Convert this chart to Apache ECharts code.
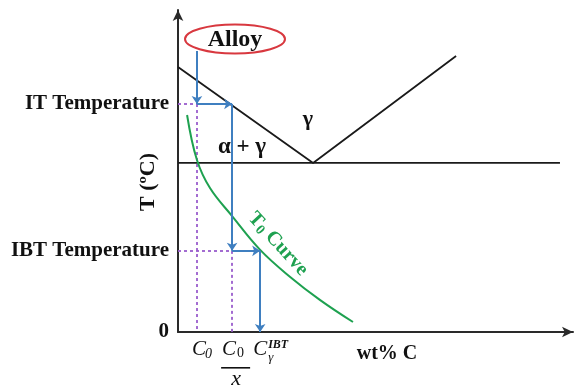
<!DOCTYPE html>
<html>
<head>
<meta charset="utf-8">
<script src="https://cdn.jsdelivr.net/npm/echarts@6/dist/echarts.min.js"></script>
<style>
html,body{margin:0;padding:0;background:#fff;}
#c{width:575px;height:387px;}
</style>
</head>
<body>
<div id="c"></div>
<script>
// ---- data (schematic units: x = wt% C, y = temperature, both 0..100) ----
const yTickValues = [0, 25.2, 70.8];
const yTickLabels = ['0', 'IBT Temperature', 'IT Temperature'];
const xTickValues = [4.8, 13.7, 20.8];           // C0, C0/x, Cγ^IBT
const xTickLabels = ['C0', 'C0/x', 'Cγ^IBT'];
const phaseBoundary = [[0, 82.3], [34.2, 52.5], [70.4, 85.7]];   // A3 + Acm
const eutectoidLine = [[0, 52.5], [96.7, 52.5]];
const t0Curve = [[2.3, 67.4], [4.8, 53.4], [8.1, 44.7], [13.7, 36.0], [20.8, 25.5], [28.4, 17.1], [36.0, 9.9], [44.3, 3.1]];
const alloyTop = 87.3;

const C0 = xTickValues[0], C0x = xTickValues[1], CG = xTickValues[2];
const IT = yTickValues[2], IBT = yTickValues[1];

const blueArrows = [
  [[C0, alloyTop], [C0, IT]],
  [[C0, IT], [C0x, IT]],
  [[C0x, IT], [C0x, IBT]],
  [[C0x, IBT], [CG, IBT]],
  [[CG, IBT], [CG, 0]]
];
const purpleDashes = [
  [[0, IT], [C0, IT]],
  [[C0, IT], [C0, 0]],
  [[0, IBT], [C0x, IBT]],
  [[C0x, IBT], [C0x, 0]]
];

const serif = '"Liberation Serif", "DejaVu Serif", serif';
const chart = echarts.init(document.getElementById('c'), null, {renderer: 'canvas'});

const option = {
  backgroundColor: '#fff',
  animation: false,
  grid: {left: 178, right: 2, top: 10, bottom: 55, containLabel: false, outerBoundsMode: 'none'},
  xAxis: {
    type: 'value', min: 0, max: 100,
    splitLine: {show: false}, axisTick: {show: false}, axisLabel: {show: false},
    axisLine: {show: true, onZero: false, symbol: ['none', 'arrow'], symbolSize: [8, 11],
      lineStyle: {color: '#2a2a2a', width: 2}}
  },
  yAxis: {
    type: 'value', min: 0, max: 100,
    splitLine: {show: false}, axisTick: {show: false},
    axisLine: {show: true, onZero: false, symbol: ['none', 'arrow'], symbolSize: [8, 11],
      lineStyle: {color: '#2a2a2a', width: 2}},
    axisLabel: {
      show: true, customValues: yTickValues, margin: 9,
      fontFamily: serif, fontWeight: 'bold', fontSize: 21, color: '#111',
      formatter: function (v) {
        const i = yTickValues.indexOf(v);
        return i >= 0 ? yTickLabels[i] : '';
      }
    }
  },
  series: [
    {
      type: 'line', data: phaseBoundary, symbol: 'none', silent: true,
      lineStyle: {color: '#1a1a1a', width: 1.8}, z: 3
    },
    {
      type: 'line', data: eutectoidLine, symbol: 'none', silent: true,
      lineStyle: {color: '#1a1a1a', width: 1.8}, z: 3
    },
    {
      type: 'lines', coordinateSystem: 'cartesian2d', silent: true,
      symbol: ['none', 'none'],
      lineStyle: {color: '#9a5ccc', width: 1.8, type: [3, 3], opacity: 1},
      data: purpleDashes.map(c => ({coords: c})), z: 2
    },
    {
      type: 'line', data: t0Curve, symbol: 'none', smooth: 0.4, silent: true,
      lineStyle: {color: '#1ea150', width: 2}, z: 4
    },
    {
      type: 'lines', coordinateSystem: 'cartesian2d', silent: true,
      symbol: ['none', 'arrow'], symbolSize: 8,
      lineStyle: {color: '#3f7fc0', width: 2, opacity: 1},
      data: blueArrows.map(c => ({coords: c})), z: 5
    }
  ]
};
chart.setOption(option);

// ---- text annotations ----
const bold = {fontFamily: serif, fontWeight: 'bold'};
function px(x, y) { return chart.convertToPixel({gridIndex: 0}, [x, y]); }
const xLabY = px(0, 0)[1];
const pC0 = px(C0, 0)[0], pC0x = px(C0x, 0)[0], pCG = px(CG, 0)[0];

const graphic = [
  {type: 'ellipse', shape: {cx: 235, cy: 39, rx: 50, ry: 14.5},
   style: {fill: 'none', stroke: '#d8383f', lineWidth: 2}, z: 10},
  {type: 'text', x: 235, y: 40, z: 11,
   style: Object.assign({text: 'Alloy', fontSize: 24, fill: '#111', align: 'center', verticalAlign: 'middle'}, bold)},
  {type: 'text', x: 308, y: 119, z: 11,
   style: Object.assign({text: 'γ', fontSize: 22, fill: '#111', align: 'center', verticalAlign: 'middle'}, bold)},
  {type: 'text', x: 242, y: 147, z: 11,
   style: Object.assign({text: 'α + γ', fontSize: 23, fill: '#111', align: 'center', verticalAlign: 'middle'}, bold)},
  {type: 'text', x: 387, y: 354, z: 11,
   style: Object.assign({text: 'wt% C', fontSize: 20, fill: '#111', align: 'center', verticalAlign: 'middle'}, bold)},
  {type: 'text', x: 148, y: 182, rotation: Math.PI / 2, z: 11,
   style: Object.assign({text: 'T (ºC)', fontSize: 22, fill: '#111', align: 'center', verticalAlign: 'middle'}, bold)},
  {type: 'text', x: 278, y: 244, rotation: -Math.PI / 4 - 0.04, z: 11,
   style: {
     text: '{t|T}{s|0}{t| Curve}', align: 'center', verticalAlign: 'middle', fill: '#1ea150',
     rich: {
       t: {fontFamily: serif, fontWeight: 'bold', fontSize: 20, fill: '#1ea150'},
       s: {fontFamily: serif, fontWeight: 'bold', fontSize: 14, fill: '#1ea150', verticalAlign: 'bottom', padding: [8, 0, 0, 0]}
     }
   }},
  // x tick labels
  {type: 'text', x: pC0 - 5, y: xLabY + 17, z: 11,
   style: {text: 'C', fontFamily: serif, fontStyle: 'italic', fontSize: 21, fill: '#111', align: 'left', verticalAlign: 'middle'}},
  {type: 'text', x: pC0 + 8, y: xLabY + 22, z: 11,
   style: {text: '0', fontFamily: serif, fontStyle: 'italic', fontSize: 14, fill: '#111', align: 'left', verticalAlign: 'middle'}},
  {type: 'text', x: pC0x - 10, y: xLabY + 17, z: 11,
   style: {text: 'C', fontFamily: serif, fontStyle: 'italic', fontSize: 21, fill: '#111', align: 'left', verticalAlign: 'middle'}},
  {type: 'text', x: pC0x + 5, y: xLabY + 21, z: 11,
   style: {text: '0', fontFamily: serif, fontSize: 14, fill: '#111', align: 'left', verticalAlign: 'middle'}},
  {type: 'rect', shape: {x: pC0x - 11, y: xLabY + 35, width: 29, height: 1.6}, style: {fill: '#111'}, z: 11},
  {type: 'text', x: pC0x + 4, y: xLabY + 47, z: 11,
   style: {text: 'x', fontFamily: serif, fontStyle: 'italic', fontSize: 22, fill: '#111', align: 'center', verticalAlign: 'middle'}},
  {type: 'text', x: pCG - 7, y: xLabY + 17, z: 11,
   style: {text: 'C', fontFamily: serif, fontStyle: 'italic', fontSize: 21, fill: '#111', align: 'left', verticalAlign: 'middle'}},
  {type: 'text', x: pCG + 8, y: xLabY + 13, z: 11,
   style: {text: 'IBT', fontFamily: serif, fontStyle: 'italic', fontWeight: 'bold', fontSize: 12, fill: '#111', align: 'left', verticalAlign: 'middle'}},
  {type: 'text', x: pCG + 8, y: xLabY + 26, z: 11,
   style: {text: 'γ', fontFamily: serif, fontStyle: 'italic', fontSize: 13, fill: '#111', align: 'left', verticalAlign: 'middle'}}
];
chart.setOption({graphic: graphic});
</script>
</body>
</html>
